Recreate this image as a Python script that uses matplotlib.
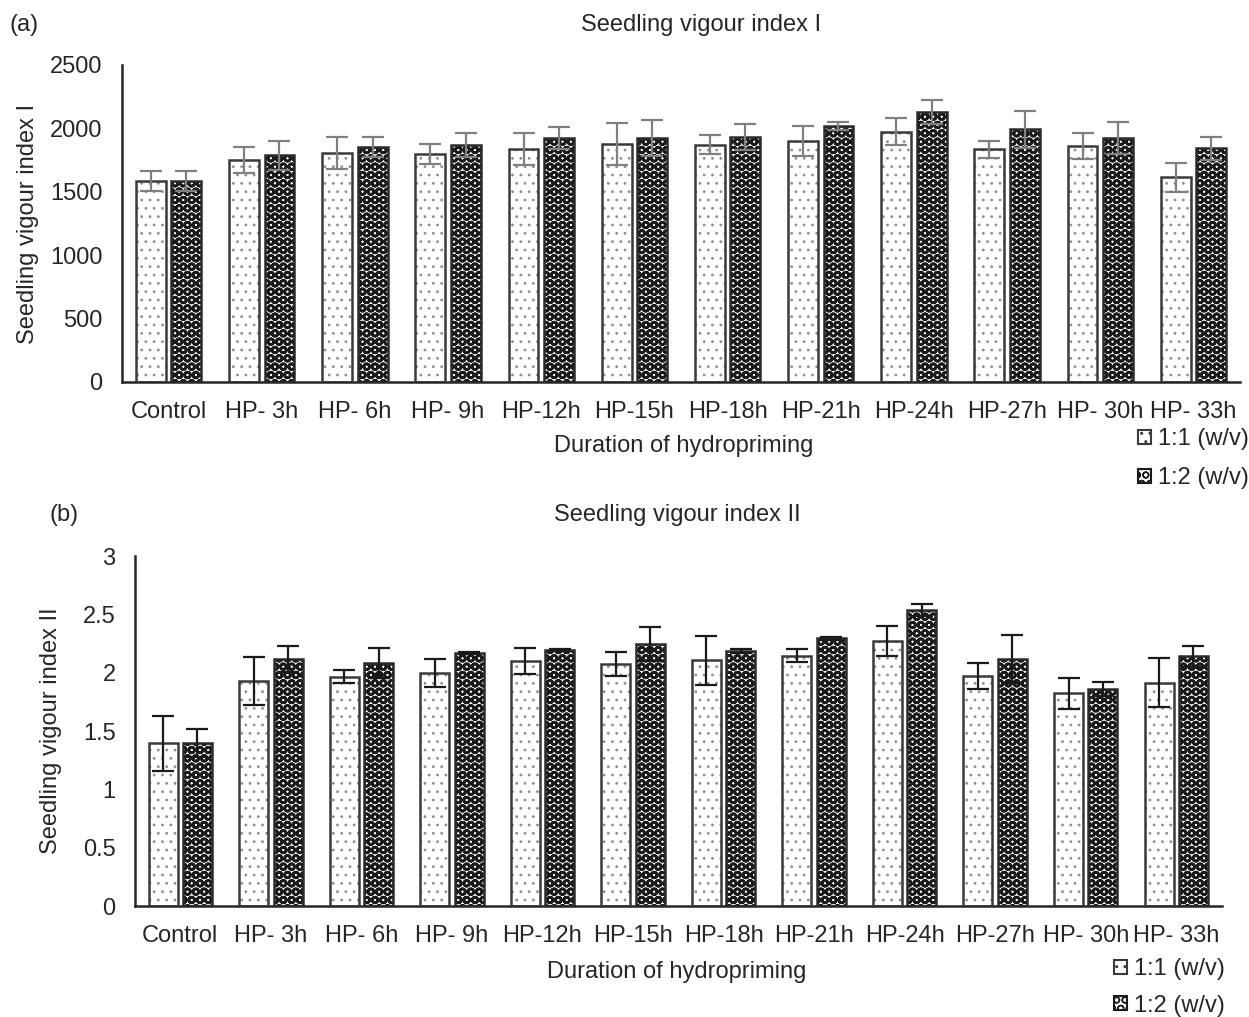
import matplotlib
matplotlib.use("Agg")
import matplotlib.pyplot as plt
import numpy as np
from matplotlib.patches import Patch

plt.rcParams['font.family'] = ['Liberation Sans', 'DejaVu Sans']

categories = ["Control", "HP- 3h", "HP- 6h", "HP- 9h", "HP-12h", "HP-15h", "HP-18h",
              "HP-21h", "HP-24h", "HP-27h", "HP- 30h", "HP- 33h"]
series_labels = ["1:1 (w/v)", "1:2 (w/v)"]

# (a) Seedling vigour index I
svi1_11 = [1585, 1751, 1804, 1798, 1837, 1879, 1872, 1901, 1974, 1835, 1861, 1614]
svi1_11_err = [81, 104, 128, 82, 124, 164, 76, 118, 105, 65, 100, 113]
svi1_12 = [1585, 1788, 1853, 1869, 1922, 1927, 1932, 2019, 2131, 1993, 1922, 1843]
svi1_12_err = [80, 115, 81, 97, 85, 142, 103, 34, 95, 147, 125, 89]

# (b) Seedling vigour index II
svi2_11 = [1.394, 1.929, 1.966, 1.994, 2.100, 2.076, 2.106, 2.146, 2.273, 1.974, 1.823, 1.914]
svi2_11_err = [0.235, 0.205, 0.055, 0.12, 0.11, 0.10, 0.21, 0.057, 0.127, 0.11, 0.13, 0.21]
svi2_12 = [1.394, 2.117, 2.085, 2.169, 2.197, 2.246, 2.186, 2.294, 2.537, 2.117, 1.857, 2.143]
svi2_12_err = [0.12, 0.11, 0.13, 0.005, 0.01, 0.145, 0.02, 0.01, 0.05, 0.206, 0.06, 0.09]

TEXT = '#262626'
FS = 17
LIGHT_HLW = 0.8
DARK_HLW = 1.9

fig = plt.figure(figsize=(12.49, 10.17), dpi=100)


def set_hlw(container, lw):
    for p in container:
        if hasattr(p, 'set_hatch_linewidth'):
            p.set_hatch_linewidth(lw)


def draw(ax, v1, e1, v2, e2, ylim, yticks, ytl, ecolor):
    x = np.arange(len(categories))
    w = 0.32
    off = 0.19
    with plt.rc_context({'hatch.linewidth': LIGHT_HLW}):
        b = ax.bar(x - off, v1, w, color='white', edgecolor='#8f8f8f', hatch='..',
                   linewidth=0, zorder=2)
        set_hlw(b, LIGHT_HLW)
    ax.bar(x - off, v1, w, fill=False, edgecolor='#3a3a3a', linewidth=1.8, zorder=3)
    with plt.rc_context({'hatch.linewidth': DARK_HLW}):
        b = ax.bar(x + off, v2, w, color='white', edgecolor='#1a1a1a', hatch='OO',
                   linewidth=0, zorder=2)
        set_hlw(b, DARK_HLW)
    ax.bar(x + off, v2, w, fill=False, edgecolor='#2a2a2a', linewidth=1.8, zorder=3)
    ax.errorbar(x - off, v1, yerr=e1, fmt='none', ecolor=ecolor, elinewidth=1.6,
                capsize=8, capthick=1.6, zorder=4)
    ax.errorbar(x + off, v2, yerr=e2, fmt='none', ecolor=ecolor, elinewidth=1.6,
                capsize=8, capthick=1.6, zorder=4)
    ax.set_xlim(-0.5, len(categories) - 0.5)
    ax.set_ylim(*ylim)
    ax.set_yticks(yticks)
    ax.set_yticklabels(ytl)
    ax.set_xticks(x)
    ax.set_xticklabels(categories)
    for s in ['top', 'right']:
        ax.spines[s].set_visible(False)
    for s in ['left', 'bottom']:
        ax.spines[s].set_color('#262626')
        ax.spines[s].set_linewidth(1.8)
    ax.tick_params(axis='both', length=0, labelsize=FS, labelcolor=TEXT)
    ax.tick_params(axis='y', pad=14)
    ax.tick_params(axis='x', pad=14)


def make_handles():
    return [Patch(facecolor='white', edgecolor='#3a3a3a', hatch='..', linewidth=1.5),
            Patch(facecolor='white', edgecolor='#1a1a1a', hatch='OO', linewidth=1.5)]

# Top panel
ax1 = fig.add_axes([0.0977, 0.6244, 0.8951, 0.3117])
draw(ax1, svi1_11, svi1_11_err, svi1_12, svi1_12_err, (0, 2500),
     [0, 500, 1000, 1500, 2000, 2500], ['0', '500', '1000', '1500', '2000', '2500'], '#808080')
ax1.set_ylabel("Seedling vigour index I", fontsize=FS, color=TEXT)
ax1.yaxis.set_label_coords(-0.074, 0.5)
fig.text(0.5612, 0.975, "Seedling vigour index I", ha='center', va='center', fontsize=FS, color=TEXT)
fig.text(0.008, 0.975, "(a)", ha='left', va='center', fontsize=FS, color=TEXT)
fig.text(0.547, 0.561, "Duration of hydropriming", ha='center', va='center', fontsize=FS, color=TEXT)
fig.legend(make_handles(), series_labels, loc='upper right', bbox_to_anchor=(1.0, 0.579),
           frameon=False, fontsize=FS, handlelength=0.55, handleheight=0.55,
           handletextpad=0.3, labelspacing=0.72, borderaxespad=0, borderpad=0,
           labelcolor=TEXT)

# Bottom panel
ax2 = fig.add_axes([0.1081, 0.1091, 0.8699, 0.3441])
draw(ax2, svi2_11, svi2_11_err, svi2_12, svi2_12_err, (0, 3),
     [0, 0.5, 1, 1.5, 2, 2.5, 3], ['0', '0.5', '1', '1.5', '2', '2.5', '3'], '#1a1a1a')
ax2.set_ylabel("Seedling vigour index II", fontsize=FS, color=TEXT)
ax2.yaxis.set_label_coords(-0.067, 0.5)
fig.text(0.542, 0.494, "Seedling vigour index II", ha='center', va='center', fontsize=FS, color=TEXT)
fig.text(0.040, 0.494, "(b)", ha='left', va='center', fontsize=FS, color=TEXT)
fig.text(0.542, 0.044, "Duration of hydropriming", ha='center', va='center', fontsize=FS, color=TEXT)
fig.legend(make_handles(), series_labels, loc='upper right', bbox_to_anchor=(0.981, 0.058),
           frameon=False, fontsize=FS, handlelength=0.55, handleheight=0.55,
           handletextpad=0.3, labelspacing=0.62, borderaxespad=0, borderpad=0,
           labelcolor=TEXT)

fig.savefig("out.png", dpi=100)
